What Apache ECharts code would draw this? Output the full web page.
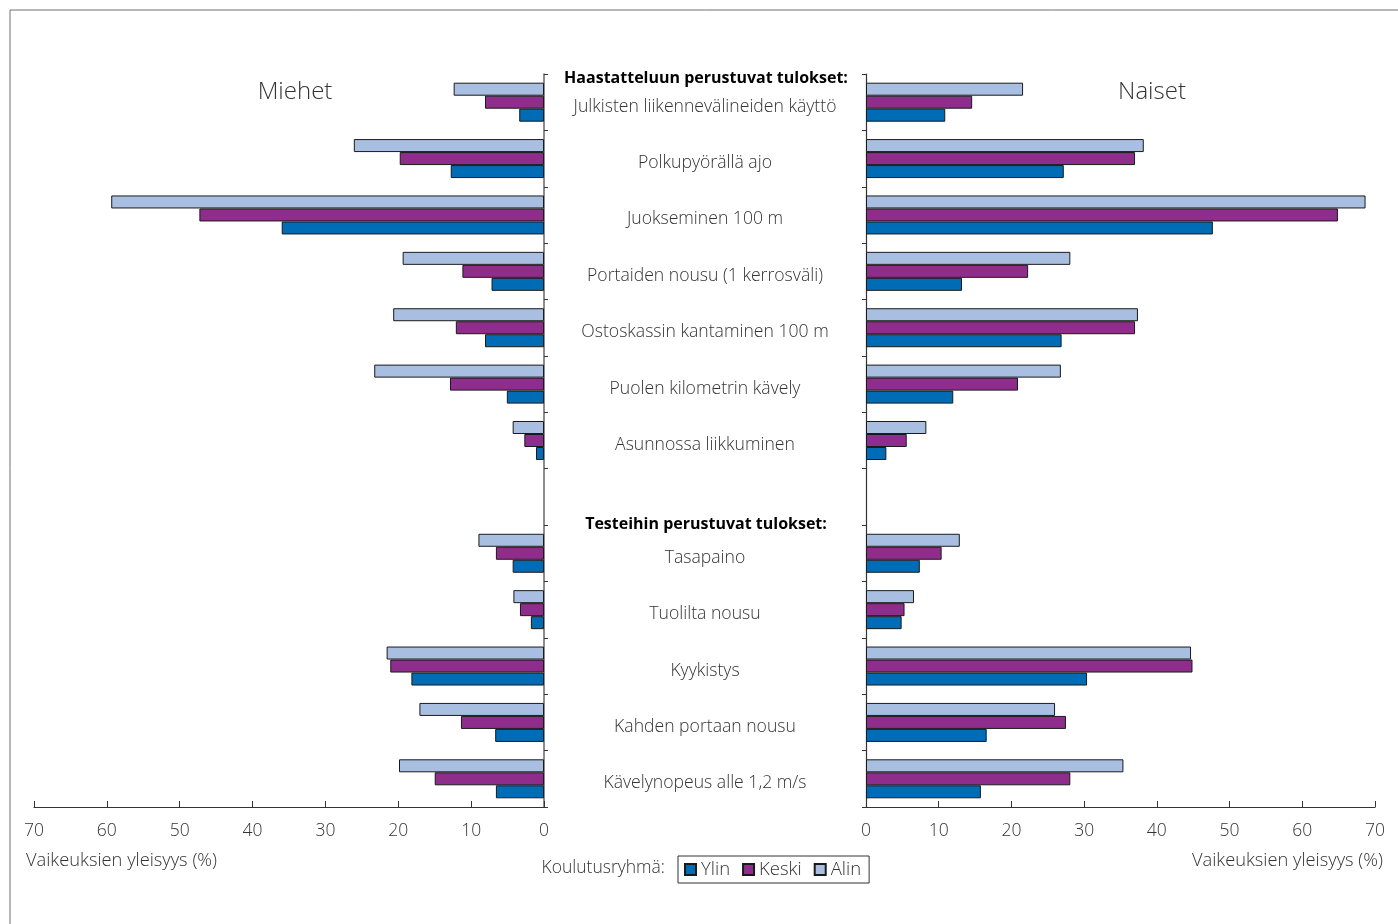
<!DOCTYPE html>
<html>
<head>
<meta charset="utf-8">
<script src="https://cdn.jsdelivr.net/npm/echarts@6/dist/echarts.min.js"></script>
<style>
  html, body { margin: 0; padding: 0; background: #fff; }
  #chart { width: 1398px; height: 924px; }
</style>
</head>
<body>
<div id="chart"></div>
<script>
// Activity categories (empty entry separates interview results from test results)
const categories = [
  'Julkisten liikennevälineiden käyttö',
  'Polkupyörällä ajo',
  'Juokseminen 100 m',
  'Portaiden nousu (1 kerrosväli)',
  'Ostoskassin kantaminen 100 m',
  'Puolen kilometrin kävely',
  'Asunnossa liikkuminen',
  '',
  'Tasapaino',
  'Tuolilta nousu',
  'Kyykistys',
  'Kahden portaan nousu',
  'Kävelynopeus alle 1,2 m/s'
];

// Prevalence of difficulties (%), men
const menAlin  = [12.4, 26.1, 59.4, 19.4, 20.7, 23.3, 4.3, null, 9.0, 4.2, 21.6, 17.1, 19.9];
const menKeski = [8.1, 19.8, 47.3, 11.2, 12.1, 12.9, 2.7, null, 6.6, 3.3, 21.1, 11.4, 15.0];
const menYlin  = [3.4, 12.8, 36.0, 7.2, 8.1, 5.1, 1.1, null, 4.3, 1.8, 18.2, 6.7, 6.6];

// Prevalence of difficulties (%), women
const womenAlin  = [21.6, 38.2, 68.7, 28.1, 37.4, 26.8, 8.3, null, 12.9, 6.6, 44.7, 26.0, 35.4];
const womenKeski = [14.6, 37.0, 64.9, 22.3, 37.0, 20.9, 5.6, null, 10.4, 5.3, 44.9, 27.5, 28.1];
const womenYlin  = [10.9, 27.2, 47.7, 13.2, 26.9, 12.0, 2.8, null, 7.4, 4.9, 30.4, 16.6, 15.8];

const groupNames = ['Ylin', 'Keski', 'Alin'];
const colors = { Ylin: '#006cb6', Keski: '#8e2d8b', Alin: '#a9bfe2' };

const FONT = 'Open Sans';
const TXT = '#333';

const chart = echarts.init(document.getElementById('chart'));

function barSeries(name, data, idx) {
  return {
    type: 'bar',
    name: name,
    xAxisIndex: idx,
    yAxisIndex: idx,
    data: data,
    barWidth: 13,
    barGap: '0%',
    itemStyle: { color: colors[name], borderColor: '#1a1a1a', borderWidth: 1 },
    emphasis: { disabled: true },
    animation: false
  };
}

const valueAxisCommon = {
  type: 'value',
  min: 0,
  max: 70,
  interval: 10,
  axisLine: { show: true, lineStyle: { color: '#333', width: 1.2 } },
  axisTick: { show: true, inside: true, length: 6, lineStyle: { color: '#333' } },
  splitLine: { show: false },
  axisLabel: { fontFamily: FONT, fontWeight: 300, fontSize: 17.5, color: TXT, margin: 15 }
};

chart.setOption({
  backgroundColor: '#fff',
  animation: false,
  grid: [
    { left: 34, right: 854, top: 74, bottom: 117 },
    { left: 866, right: 23, top: 74, bottom: 117 }
  ],
  xAxis: [
    Object.assign({}, valueAxisCommon, { gridIndex: 0, inverse: true }),
    Object.assign({}, valueAxisCommon, { gridIndex: 1 })
  ],
  yAxis: [
    {
      type: 'category', gridIndex: 0, data: categories, inverse: true, position: 'right',
      axisLine: { lineStyle: { color: '#666', width: 1.5 } },
      axisTick: { show: true, length: 4, lineStyle: { color: '#333' } },
      axisLabel: { show: false }
    },
    {
      type: 'category', gridIndex: 1, data: categories, inverse: true, position: 'left',
      axisLine: { lineStyle: { color: '#333', width: 1.2 } },
      axisTick: { show: true, length: 4, lineStyle: { color: '#333' } },
      axisLabel: {
        margin: 161, align: 'center', verticalAlign: 'top', lineHeight: 9,
        fontFamily: FONT, fontWeight: 300, fontSize: 17.6, color: TXT
      }
    }
  ],
  legend: {
    data: groupNames,
    left: 678, top: 856,
    orient: 'horizontal',
    icon: 'rect',
    itemWidth: 11, itemHeight: 11, itemGap: 12,
    borderColor: '#333', borderWidth: 1,
    padding: [4, 8, 4, 6],
    textStyle: { fontFamily: FONT, fontWeight: 300, fontSize: 18.5, color: TXT, lineHeight: 18 },
    selectedMode: false
  },
  series: [
    barSeries('Alin', menAlin, 0),
    barSeries('Keski', menKeski, 0),
    barSeries('Ylin', menYlin, 0),
    barSeries('Alin', womenAlin, 1),
    barSeries('Keski', womenKeski, 1),
    barSeries('Ylin', womenYlin, 1)
  ],
  graphic: [
    { type: 'rect', silent: true, shape: { x: 10, y: 10, width: 1400, height: 940 },
      style: { fill: 'none', stroke: '#6e6e6e', lineWidth: 1 } },
    { type: 'text', x: 295, y: 92, silent: true,
      style: { text: 'Miehet', font: '300 24px "' + FONT + '"', fill: TXT, align: 'center', verticalAlign: 'middle' } },
    { type: 'text', x: 1152, y: 92, silent: true,
      style: { text: 'Naiset', font: '300 24px "' + FONT + '"', fill: TXT, align: 'center', verticalAlign: 'middle' } },
    { type: 'text', x: 706, y: 78, silent: true,
      style: { text: 'Haastatteluun perustuvat tulokset:', font: 'bold 16px "' + FONT + '"', fill: '#000', align: 'center', verticalAlign: 'middle' } },
    { type: 'text', x: 706, y: 524, silent: true,
      style: { text: 'Testeihin perustuvat tulokset:', font: 'bold 16px "' + FONT + '"', fill: '#000', align: 'center', verticalAlign: 'middle' } },
    { type: 'text', x: 26, y: 861, silent: true,
      style: { text: 'Vaikeuksien yleisyys (%)', font: '300 18.3px "' + FONT + '"', fill: TXT, align: 'left', verticalAlign: 'middle' } },
    { type: 'text', x: 1383, y: 861, silent: true,
      style: { text: 'Vaikeuksien yleisyys (%)', font: '300 18.3px "' + FONT + '"', fill: TXT, align: 'right', verticalAlign: 'middle' } },
    { type: 'text', x: 665, y: 868, silent: true,
      style: { text: 'Koulutusryhmä:', font: '300 17.5px "' + FONT + '"', fill: TXT, align: 'right', verticalAlign: 'middle' } }
  ]
});
</script>
</body>
</html>
